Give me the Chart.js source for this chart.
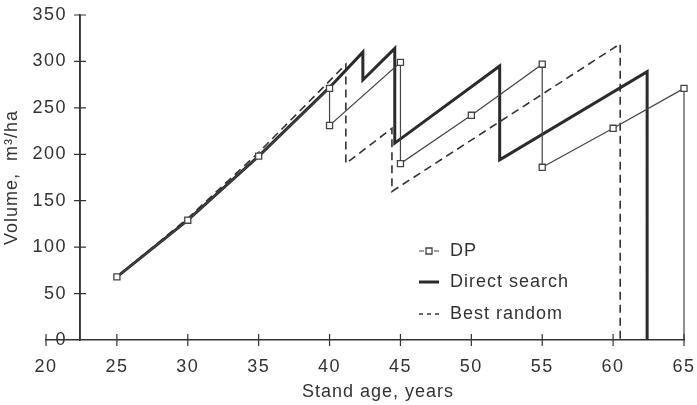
<!DOCTYPE html>
<html>
<head>
<meta charset="utf-8">
<script src="https://cdn.jsdelivr.net/npm/chart.js@4.4.1/dist/chart.umd.min.js"></script>
<style>
  html, body { margin: 0; padding: 0; background: #fff; }
  #wrap { width: 697px; height: 405px; position: relative; }
</style>
</head>
<body>
<div id="wrap"><canvas id="volumeChart"></canvas></div>
<script>
// Stand age (years) and volume (m3/ha)
const dpAge = [25, 30, 35, 40, 40, 45, 45, 50, 55, 55, 60, 65, 65];
const dpVol = [68, 129, 198, 271, 231, 299, 190, 242, 297, 186, 228, 271, 0];

const dsAge = [25, 30, 35, 40, 42.35, 42.35, 44.6, 44.6, 52, 52, 62.4, 62.4];
const dsVol = [68, 129, 198, 272, 310, 280, 314, 212, 295, 194, 289, 0];

const brAge = [25, 30, 35, 40, 41.15, 41.15, 44.4, 44.4, 60.5, 60.5];
const brVol = [68, 131, 202, 279, 297, 190, 228, 160, 319, 0];

const seriesNames = ['DP', 'Direct search', 'Best random'];
const ageRange = [20, 65];
const volRange = [0, 350];
const ageStep = 5;
const volStep = 50;
const yAxisAt = 22.4; // the y axis crosses the x axis here, not at 20
const xTitle = 'Stand age, years';
const yTitleText = 'Volume,  m\u00b3/ha';

const ink = '#333';
const fontMain = { family: "'Liberation Sans', Arial, sans-serif", size: 18 };
const fontCss = fontMain.size + 'px ' + fontMain.family;

function toPoints(xs, ys) {
    return xs.map((x, i) => ({ x: x, y: ys[i] }));
}

// keep the plot area where the layout padding puts it
function noScalePadding(scale) {
    scale.paddingTop = 0;
    scale.paddingBottom = 0;
    scale.paddingLeft = 0;
    scale.paddingRight = 0;
}

// pixel of the y axis along the x scale
function axisPixel(x) {
    const px = x.getPixelForValue(yAxisAt);
    if (Number.isFinite(px)) return px;
    return x.left + (yAxisAt - x.min) / (x.max - x.min) * (x.right - x.left);
}

// a bit of letter spacing, the scan looks typewritten
const spacing = {
    id: 'spacing',
    beforeUpdate(chart) { chart.ctx.letterSpacing = '1.5px'; },
    beforeDraw(chart) { chart.ctx.letterSpacing = '1.5px'; }
};

// y axis line and tick marks that go through the axes
const crossTicks = {
    id: 'crossTicks',
    afterDraw(chart) {
        const { ctx, scales: { x, y } } = chart;
        const axisX = axisPixel(x);
        const axisY = y.getPixelForValue(0);
        ctx.save();
        ctx.setLineDash([]);
        ctx.strokeStyle = ink;
        ctx.lineWidth = 1.2;
        ctx.beginPath();
        x.ticks.forEach(t => {
            const px = x.getPixelForValue(t.value);
            ctx.moveTo(px, axisY - 6);
            ctx.lineTo(px, axisY + 6);
        });
        y.ticks.forEach(t => {
            if (t.value === 0) return;
            const py = y.getPixelForValue(t.value);
            ctx.moveTo(axisX - 6, py);
            ctx.lineTo(axisX + 6, py);
        });
        ctx.stroke();
        ctx.lineWidth = 1.5;
        ctx.beginPath();
        ctx.moveTo(axisX, y.getPixelForValue(volRange[1]));
        ctx.lineTo(axisX, axisY);
        ctx.stroke();
        ctx.restore();
    }
};

// axis titles, drawn by hand since the y axis sits inside the plot
const axisTitles = {
    id: 'axisTitles',
    afterDraw(chart) {
        const { ctx, chartArea } = chart;
        ctx.save();
        ctx.letterSpacing = '1px';
        ctx.font = fontCss;
        ctx.fillStyle = ink;
        ctx.textAlign = 'center';
        ctx.textBaseline = 'alphabetic';
        ctx.fillText(xTitle, 378, 397);
        ctx.translate(17, (chartArea.top + chartArea.bottom) / 2);
        ctx.rotate(-Math.PI / 2);
        ctx.fillText(yTitleText, 0, 0);
        ctx.restore();
    }
};

// legend inside the plot, lower right
const legendBox = {
    id: 'legendBox',
    afterDraw(chart) {
        const ctx = chart.ctx;
        const rows = [251, 282, 314];
        const x0 = 419, x1 = 439;
        chart.data.datasets.forEach((ds, i) => {
            const yy = rows[i];
            ctx.save();
            ctx.letterSpacing = '1px';
            ctx.strokeStyle = ds.borderColor;
            ctx.lineWidth = ds.borderWidth;
            ctx.setLineDash(ds.legendDash || []);
            ctx.beginPath();
            ctx.moveTo(x0, yy);
            ctx.lineTo(x1, yy);
            ctx.stroke();
            if (ds.pointStyle === 'rect') {
                ctx.setLineDash([]);
                ctx.lineWidth = ds.pointBorderWidth;
                ctx.fillStyle = '#fff';
                ctx.beginPath();
                ctx.rect((x0 + x1) / 2 - 3, yy - 3, 6, 6);
                ctx.fill();
                ctx.stroke();
            }
            ctx.font = fontCss;
            ctx.fillStyle = ink;
            ctx.textAlign = 'left';
            ctx.textBaseline = 'middle';
            ctx.fillText(ds.label, 450, yy);
            ctx.restore();
        });
    }
};

const dpRadius = dpAge.map((a, i) => (i === dpAge.length - 1 ? 0 : 4.3));

new Chart(document.getElementById('volumeChart'), {
    type: 'line',
    data: {
        datasets: [{
            label: seriesNames[0],
            data: toPoints(dpAge, dpVol),
            borderColor: '#444',
            borderWidth: 1.2,
            pointStyle: 'rect',
            pointRadius: dpRadius,
            pointBackgroundColor: '#fff',
            pointBorderColor: '#444',
            pointBorderWidth: 1.3,
            legendDash: [5, 10],
            tension: 0,
            clip: false
        }, {
            label: seriesNames[1],
            data: toPoints(dsAge, dsVol),
            borderColor: '#2b2b2b',
            borderWidth: 3,
            pointRadius: 0,
            tension: 0,
            clip: false
        }, {
            label: seriesNames[2],
            data: toPoints(brAge, brVol),
            borderColor: '#333',
            borderWidth: 1.6,
            borderDash: [8, 5],
            legendDash: [4, 4],
            pointRadius: 0,
            tension: 0,
            clip: false
        }]
    },
    options: {
        responsive: true,
        maintainAspectRatio: false,
        animation: false,
        layout: {
            padding: { left: 46, right: 13, top: 15, bottom: 16 }
        },
        plugins: {
            legend: { display: false },
            tooltip: { enabled: false }
        },
        scales: {
            x: {
                type: 'linear',
                position: 'bottom',
                min: ageRange[0],
                max: ageRange[1],
                afterFit: noScalePadding,
                ticks: {
                    stepSize: ageStep,
                    color: ink,
                    font: fontMain,
                    padding: 10.7,
                    maxRotation: 0
                },
                grid: {
                    drawOnChartArea: false,
                    drawTicks: true,
                    tickLength: 6,
                    tickColor: 'rgba(0,0,0,0)'
                },
                border: { display: true, color: ink, width: 1.5 }
            },
            y: {
                type: 'linear',
                position: { x: yAxisAt },
                min: volRange[0],
                max: volRange[1],
                afterFit: noScalePadding,
                ticks: {
                    stepSize: volStep,
                    color: ink,
                    font: fontMain,
                    // room between the label and the axis
                    callback: value => value + '  '
                },
                grid: {
                    drawOnChartArea: false,
                    drawTicks: false
                },
                border: { display: true, color: ink, width: 1.5 }
            }
        }
    },
    plugins: [spacing, crossTicks, axisTitles, legendBox]
});
</script>
</body>
</html>
